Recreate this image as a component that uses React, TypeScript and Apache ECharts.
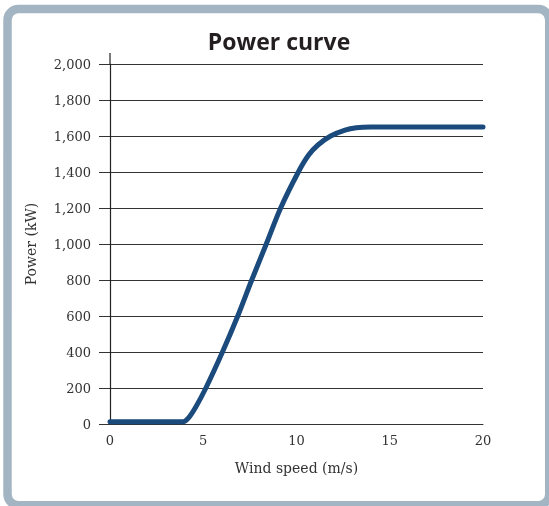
import React, { useEffect, useRef } from "react";
import * as echarts from "echarts";

const windSpeed = [0, 3.9, 4.2, 4.6, 5.14, 6.03, 6.85, 7.6, 8.38, 9.15, 10.1, 10.65, 11.15, 11.83, 12.6, 13.2, 14.0, 20];
const powerKW = [12, 12, 33, 95, 200, 400, 600, 800, 1000, 1200, 1400, 1494, 1550, 1600, 1633, 1646, 1650, 1650];
const xTicks = [0, 5, 10, 15, 20];
const yTicks = [0, 200, 400, 600, 800, 1000, 1200, 1400, 1600, 1800, 2000];

export default function App() {
  const ref = useRef<HTMLDivElement>(null);
  useEffect(() => {
    if (!ref.current) return;
    const chart = echarts.init(ref.current, undefined, { renderer: "svg" });
    const serif = "DejaVu Serif";
    const frame = {
      type: "rect",
      z: -10,
      shape: { x: 7.5, y: 9, width: 541.75, height: 496.25, r: 11 },
      style: { fill: "#ffffff", stroke: "#a3b5c3", lineWidth: 8.5 },
    };
    const option: any = {
      animation: false,
      backgroundColor: "transparent",
      title: {
        text: "Power curve",
        left: 274,
        textAlign: "center",
        top: 24,
        textStyle: { fontFamily: "Open Sans", fontWeight: 700, fontSize: 23, color: "#231f20" },
      },
      grid: { left: 110, right: 66, top: 64, height: 360, containLabel: false },
      xAxis: {
        type: "value",
        min: xTicks[0],
        max: xTicks[xTicks.length - 1],
        interval: 5,
        name: "Wind speed (m/s)",
        nameLocation: "middle",
        nameGap: 37,
        nameTextStyle: { fontFamily: serif, fontSize: 14, color: "#333" },
        axisLine: { show: true, lineStyle: { color: "#333", width: 1 } },
        axisTick: { show: false },
        splitLine: { show: false },
        axisLabel: {
          fontFamily: serif,
          fontSize: 13,
          color: "#333",
          margin: 10,
          formatter: (v: number) => (xTicks.includes(v) ? String(v) : ""),
        },
      },
      yAxis: {
        type: "value",
        min: yTicks[0],
        max: yTicks[yTicks.length - 1],
        interval: 200,
        name: "Power (kW)",
        nameLocation: "middle",
        nameGap: 72,
        nameTextStyle: { fontFamily: serif, fontSize: 14, color: "#333" },
        axisLine: { show: true, lineStyle: { color: "#222", width: 1.2 } },
        axisTick: { show: true, inside: false, length: 11, lineStyle: { color: "#333", width: 1 } },
        splitLine: { show: true, lineStyle: { color: "#333", width: 1 } },
        axisLabel: {
          fontFamily: serif,
          fontSize: 13,
          color: "#333",
          margin: 19,
          formatter: (v: number) => v.toLocaleString("en-US"),
        },
      },
      series: [
        {
          type: "line",
          data: windSpeed.map((x, i) => [x, powerKW[i]]),
          smooth: 0.3,
          showSymbol: false,
          lineStyle: { color: "#1b4a7d", width: 5, cap: "round", join: "round" },
          clip: false,
        },
      ],
      graphic: [frame],
    };
    chart.setOption(option);
    const top = chart.convertToPixel({ gridIndex: 0 }, [0, yTicks[yTicks.length - 1]]) as number[];
    chart.setOption({
      graphic: [
        frame,
        {
          type: "line",
          shape: { x1: top[0], y1: top[1] - 11, x2: top[0], y2: top[1] },
          style: { stroke: "#222", lineWidth: 1.2 },
        },
      ],
    });
    return () => chart.dispose();
  }, []);
  return (
    <div
      ref={ref}
      style={{ position: "fixed", left: 0, top: 0, width: 549, height: 506 }}
    />
  );
}
